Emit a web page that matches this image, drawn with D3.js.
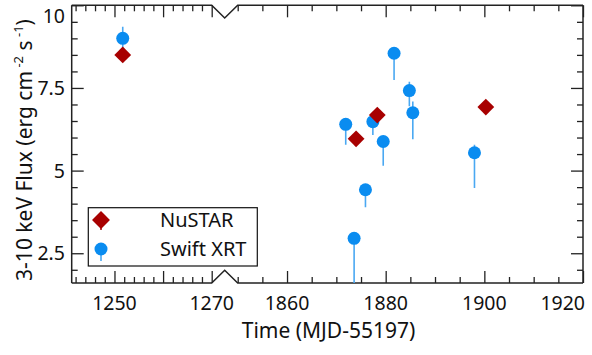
<!DOCTYPE html>
<html>
<head>
<meta charset="utf-8">
<script src="https://cdn.jsdelivr.net/npm/d3@7/dist/d3.min.js"></script>
<style>
  html, body { margin: 0; padding: 0; background: #fff; }
  svg { display: block; }
  text { font-family: "Noto Sans", "Open Sans", sans-serif; fill: #111; }
</style>
</head>
<body>
<svg id="chart" width="592" height="355"></svg>
<script>
// ---- data ----
const swiftTime = [1251.7, 1871.9, 1873.6, 1875.9, 1877.4, 1879.5, 1881.7, 1884.8, 1885.5, 1898.0];
const swiftFlux = [9.00, 6.40, 2.95, 4.42, 6.48, 5.88, 8.55, 7.42, 6.75, 5.54];
const swiftLow  = [8.70, 5.78, 1.00, 3.89, 6.08, 5.15, 7.74, 6.95, 5.95, 4.47];
const swiftHigh = [9.35, 6.55, 3.05, 4.50, 6.60, 5.95, 8.65, 7.69, 7.09, 5.78];

const nustarTime = [1251.7, 1874.0, 1878.3, 1900.3];
const nustarFlux = [8.50, 5.96, 6.68, 6.92];

const leftTickLabels = [1250, 1270];
const rightTickLabels = [1860, 1880, 1900, 1920];
const yTickLabels = [2.5, 5, 7.5, 10];

const seriesNames = ["NuSTAR", "Swift XRT"];

// ---- layout ----
const svg = d3.select("#chart");
const L = 71.7, R = 583, T = 5.3, B = 283;
const breakL = 211.7, breakR = 237.7, breakDepth = 12.7;

const xLeft = d3.scaleLinear().domain([1241.2, 1270]).range([L, breakL]);
const xRight = d3.scaleLinear().domain([1850, 1920]).range([breakR, R]);
const y = d3.scaleLinear().domain([1.6, 10]).range([B, T]);
const xAt = t => t < 1500 ? xLeft(t) : xRight(t);

const axisColor = "#222";
const minorLen = 6, majorLen = 12;

const blue = "#0a8cf0", barBlue = "#4aa8f2", red = "#a80000";

// clip
svg.append("defs").append("clipPath").attr("id", "plotclip")
  .append("rect").attr("x", L).attr("y", T).attr("width", R - L).attr("height", B - T);

// ---- ticks ----
function range(a, b, s) { const r = []; for (let v = a; v <= b + 1e-9; v += s) r.push(+v.toFixed(4)); return r; }

const leftMinor = range(1242, 1270, 2).filter(v => v % 10 !== 0);
const leftMajor = [1250, 1260, 1270];
const rightMinor = range(1850, 1920, 5).filter(v => v % 20 !== 0);
const rightMajor = [1860, 1880, 1900, 1920];
const yMinor = range(2.0, 10, 0.5).filter(v => Math.abs(v / 2.5 - Math.round(v / 2.5)) > 1e-6);
const yMajor = [2.5, 5, 7.5, 10];

function drawAxis(gen, transform) {
  const g = svg.append("g").attr("transform", transform).call(gen);
  g.select(".domain").remove();
  g.selectAll("line").attr("stroke", axisColor).attr("stroke-width", 1.3);
  return g;
}

// bottom (ticks inward = up)
drawAxis(d3.axisBottom(xLeft).tickValues(leftMinor).tickSize(-minorLen).tickFormat(""), `translate(0,${B})`);
drawAxis(d3.axisBottom(xLeft).tickValues(leftMajor).tickSize(-majorLen).tickFormat(""), `translate(0,${B})`);
drawAxis(d3.axisBottom(xRight).tickValues(rightMinor).tickSize(-minorLen).tickFormat(""), `translate(0,${B})`);
drawAxis(d3.axisBottom(xRight).tickValues(rightMajor).tickSize(-majorLen).tickFormat(""), `translate(0,${B})`);
// top (ticks inward = down)
drawAxis(d3.axisTop(xLeft).tickValues(leftMinor).tickSize(-minorLen).tickFormat(""), `translate(0,${T})`);
drawAxis(d3.axisTop(xLeft).tickValues(leftMajor).tickSize(-majorLen).tickFormat(""), `translate(0,${T})`);
drawAxis(d3.axisTop(xRight).tickValues(rightMinor).tickSize(-minorLen).tickFormat(""), `translate(0,${T})`);
drawAxis(d3.axisTop(xRight).tickValues(rightMajor).tickSize(-majorLen).tickFormat(""), `translate(0,${T})`);
// left (ticks inward = right)
drawAxis(d3.axisLeft(y).tickValues(yMinor).tickSize(-minorLen).tickFormat(""), `translate(${L},0)`);
drawAxis(d3.axisLeft(y).tickValues(yMajor).tickSize(-majorLen).tickFormat(""), `translate(${L},0)`);
// right (ticks inward = left)
drawAxis(d3.axisRight(y).tickValues(yMinor).tickSize(-minorLen).tickFormat(""), `translate(${R},0)`);
drawAxis(d3.axisRight(y).tickValues(yMajor).tickSize(-majorLen).tickFormat(""), `translate(${R},0)`);

// frame with breaks
const mid = (breakL + breakR) / 2;
const frame = svg.append("g").attr("fill", "none").attr("stroke", axisColor).attr("stroke-width", 1.5);
frame.append("path").attr("d",
  `M${L},${B}H${breakL}L${mid},${B - breakDepth}L${breakR},${B}H${R}`);
frame.append("path").attr("d",
  `M${L},${T}H${breakL}L${mid},${T + breakDepth}L${breakR},${T}H${R}`);
frame.append("path").attr("d", `M${L},${T}V${B}`);
frame.append("path").attr("d", `M${R},${T}V${B}`);

// tick labels
const tickFont = 19.5;
const xLabG = svg.append("g").attr("font-size", tickFont).attr("text-anchor", "middle");
function xLabel(v, scale) {
  const t = xLabG.append("text").attr("x", scale(v)).attr("y", 310).text(v);
  const w = t.node().getComputedTextLength();
  if (scale(v) + w / 2 > R + 2) t.attr("x", R + 2 - w / 2);
}
leftTickLabels.forEach(v => xLabel(v, xLeft));
rightTickLabels.forEach(v => xLabel(v, xRight));

const yLabG = svg.append("g").attr("font-size", tickFont).attr("text-anchor", "end");
yTickLabels.forEach(v => {
  let yy = y(v) + 7;
  if (yy - 14 < T + 3) yy = T + 17.5;
  yLabG.append("text").attr("x", 65).attr("y", yy).text(v);
});

// axis titles
svg.append("text").attr("x", 328.5).attr("y", 338).attr("text-anchor", "middle")
  .attr("font-size", 21).text("Time (MJD-55197)");

const yt = svg.append("text").attr("transform", "translate(32,150) rotate(-90)")
  .attr("text-anchor", "middle").attr("font-size", 21);
yt.append("tspan").text("3-10 keV Flux (erg cm");
yt.append("tspan").attr("dy", -9).attr("font-size", 13).text(" -2");
yt.append("tspan").attr("dy", 9).text(" s");
yt.append("tspan").attr("dy", -9).attr("font-size", 13).text(" -1");
yt.append("tspan").attr("dy", 9).text(")");

// ---- data marks ----
const plot = svg.append("g").attr("clip-path", "url(#plotclip)");
const swift = swiftTime.map((t, i) => ({ t, f: swiftFlux[i], lo: swiftLow[i], hi: swiftHigh[i] }));
const nustar = nustarTime.map((t, i) => ({ t, f: nustarFlux[i] }));

plot.selectAll("line.err").data(swift).join("line").attr("class", "err")
  .attr("x1", d => xAt(d.t)).attr("x2", d => xAt(d.t))
  .attr("y1", d => y(d.lo)).attr("y2", d => y(d.hi))
  .attr("stroke", barBlue).attr("stroke-width", 1.6);

plot.selectAll("circle.sw").data(swift).join("circle").attr("class", "sw")
  .attr("cx", d => xAt(d.t)).attr("cy", d => y(d.f)).attr("r", 6.5)
  .attr("fill", blue);

const dia = d3.symbol().type(d3.symbolDiamond2).size(180);
plot.selectAll("path.nu").data(nustar).join("path").attr("class", "nu")
  .attr("transform", d => `translate(${xAt(d.t)},${y(d.f)})`)
  .attr("d", dia).attr("fill", red);

// ---- legend ----
const lg = svg.append("g");
lg.append("rect").attr("x", 88.3).attr("y", 207.7).attr("width", 169).attr("height", 58.3)
  .attr("fill", "#fff").attr("stroke", "#111").attr("stroke-width", 1.2);
lg.append("line").attr("x1", 101).attr("x2", 101).attr("y1", 214).attr("y2", 230)
  .attr("stroke", red).attr("stroke-width", 1.5);
lg.append("path").attr("transform", "translate(101,220)").attr("d", d3.symbol().type(d3.symbolDiamond2).size(205)).attr("fill", red);
lg.append("line").attr("x1", 101).attr("x2", 101).attr("y1", 245).attr("y2", 261)
  .attr("stroke", barBlue).attr("stroke-width", 1.6);
lg.append("circle").attr("cx", 101).attr("cy", 249).attr("r", 6.5).attr("fill", blue);
lg.append("text").attr("x", 160).attr("y", 227.3).attr("font-size", 20).text(seriesNames[0]);
lg.append("text").attr("x", 160).attr("y", 256).attr("font-size", 20).text(seriesNames[1]);
</script>
</body>
</html>
